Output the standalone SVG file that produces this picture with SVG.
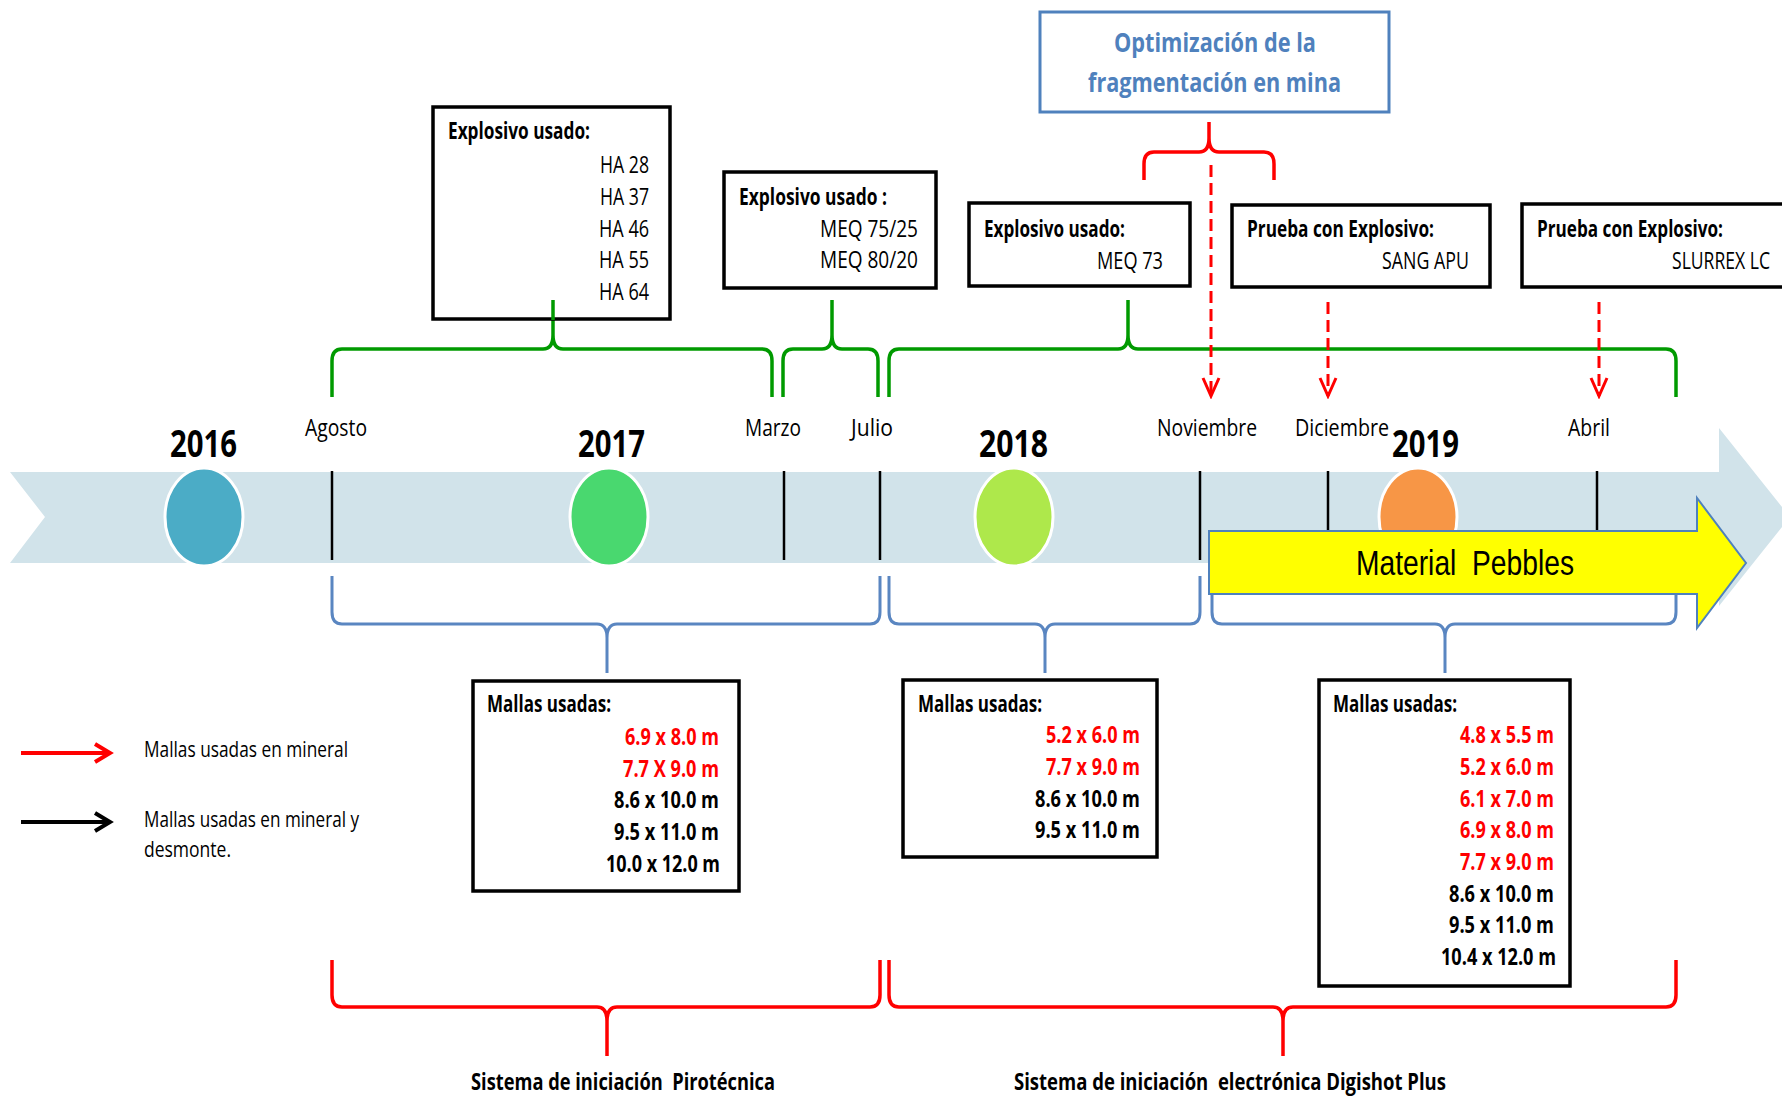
<svg xmlns="http://www.w3.org/2000/svg" width="1782" height="1098" viewBox="0 0 1782 1098">
<style>
text { font-family: "Liberation Sans Narrow", "Open Sans", "Liberation Sans", sans-serif; fill: #000; }
.b { font-weight: bold; }
.s23 { font-size: 23px; }
.s22 { font-size: 22px; }
.yr { font-size: 38px; font-weight: bold; }
.red { fill: #FF0000; }
.ttl { font-size: 27px; font-weight: bold; fill: #4F81BD; }
.box { fill: #FFFFFF; stroke: #000; stroke-width: 3.5; }
.tick { stroke: #000; stroke-width: 2.5; }
.green { fill: none; stroke: #009A00; stroke-width: 3.5; }
.blue { fill: none; stroke: #5A86C1; stroke-width: 3; }
.redb { fill: none; stroke: #FF0000; stroke-width: 3.5; }
.dash { stroke: #FF0000; stroke-width: 3; stroke-dasharray: 12 6; fill: none; }
</style>
<defs>
<marker id="redHead" markerUnits="userSpaceOnUse" viewBox="0 0 22 22" markerWidth="22" markerHeight="22" refX="19" refY="11" orient="auto">
<path d="M1,3 L19,11 L1,19" fill="none" stroke="#FF0000" stroke-width="3" stroke-dasharray="none"/>
</marker>
<marker id="legRed" markerUnits="userSpaceOnUse" viewBox="0 0 22 22" markerWidth="22" markerHeight="22" refX="17" refY="11" orient="auto">
<path d="M2,2 L17,11 L2,20" fill="none" stroke="#FF0000" stroke-width="4"/>
</marker>
<marker id="legBlack" markerUnits="userSpaceOnUse" viewBox="0 0 22 22" markerWidth="22" markerHeight="22" refX="17" refY="11" orient="auto">
<path d="M2,2 L17,11 L2,20" fill="none" stroke="#000" stroke-width="4"/>
</marker>
</defs>

<g id="timeline-band">
<polygon points="10,472 1719,472 1719,428 1790,517 1719,606 1719,563 10,563 45,517" fill="#D1E3EA"/>
</g>

<g id="year-2016">
<ellipse cx="204" cy="517" rx="39" ry="49" fill="#4BACC6" stroke="#FFFFFF" stroke-width="3"/>
<text class="yr" x="170" y="457" textLength="67" lengthAdjust="spacingAndGlyphs">2016</text>
</g>
<g id="year-2017">
<ellipse cx="609" cy="517" rx="39" ry="49" fill="#49D86F" stroke="#FFFFFF" stroke-width="3"/>
<text class="yr" x="578" y="457" textLength="67" lengthAdjust="spacingAndGlyphs">2017</text>
</g>
<g id="year-2018">
<ellipse cx="1014" cy="517" rx="39" ry="49" fill="#AEE84B" stroke="#FFFFFF" stroke-width="3"/>
<text class="yr" x="979" y="457" textLength="69" lengthAdjust="spacingAndGlyphs">2018</text>
</g>
<g id="year-2019">
<ellipse cx="1418" cy="517" rx="39" ry="49" fill="#F79646" stroke="#FFFFFF" stroke-width="3"/>
<text class="yr" x="1392" y="457" textLength="67" lengthAdjust="spacingAndGlyphs">2019</text>
</g>

<g id="months">
<line class="tick" x1="332" y1="471" x2="332" y2="560"/>
<line class="tick" x1="784" y1="471" x2="784" y2="560"/>
<line class="tick" x1="880" y1="471" x2="880" y2="560"/>
<line class="tick" x1="1200" y1="471" x2="1200" y2="560"/>
<line class="tick" x1="1328" y1="471" x2="1328" y2="560"/>
<line class="tick" x1="1597" y1="471" x2="1597" y2="560"/>
<text class="s23" x="305" y="436" textLength="62" lengthAdjust="spacingAndGlyphs">Agosto</text>
<text class="s23" x="745" y="436" textLength="56" lengthAdjust="spacingAndGlyphs">Marzo</text>
<text class="s23" x="851" y="436" textLength="42" lengthAdjust="spacingAndGlyphs">Julio</text>
<text class="s23" x="1157" y="436" textLength="100" lengthAdjust="spacingAndGlyphs">Noviembre</text>
<text class="s23" x="1295" y="436" textLength="94" lengthAdjust="spacingAndGlyphs">Diciembre</text>
<text class="s23" x="1568" y="436" textLength="42" lengthAdjust="spacingAndGlyphs">Abril</text>
</g>

<g id="connectors">
<path class="green" d="M332,397 L332,361 Q332,349 342,349 L543,349 Q553,349 553,335 L553,300 L553,335 Q553,349 563,349 L762,349 Q772,349 772,361 L772,397"/>
<path class="green" d="M783,397 L783,361 Q783,349 793,349 L822,349 Q832,349 832,335 L832,300 L832,335 Q832,349 842,349 L868,349 Q878,349 878,361 L878,397"/>
<path class="green" d="M889,397 L889,361 Q889,349 899,349 L1118,349 Q1128,349 1128,335 L1128,300 L1128,335 Q1128,349 1138,349 L1666,349 Q1676,349 1676,361 L1676,397"/>
<path class="redb" d="M1144,180 L1144,164 Q1144,152 1154,152 L1199,152 Q1209,152 1209,138 L1209,122 L1209,138 Q1209,152 1219,152 L1264,152 Q1274,152 1274,164 L1274,180"/>
<path class="blue" d="M332,576 L332,612 Q332,624 342,624 L597,624 Q607,624 607,638 L607,673 L607,638 Q607,624 617,624 L870,624 Q880,624 880,612 L880,576"/>
<path class="blue" d="M889,576 L889,612 Q889,624 899,624 L1035,624 Q1045,624 1045,638 L1045,673 L1045,638 Q1045,624 1055,624 L1190,624 Q1200,624 1200,612 L1200,576"/>
<path class="blue" d="M1212,576 L1212,612 Q1212,624 1222,624 L1435,624 Q1445,624 1445,638 L1445,673 L1445,638 Q1445,624 1455,624 L1666,624 Q1676,624 1676,612 L1676,576"/>
<path class="redb" d="M332,960 L332,995 Q332,1007 342,1007 L597,1007 Q607,1007 607,1021 L607,1056 L607,1021 Q607,1007 617,1007 L870,1007 Q880,1007 880,995 L880,960"/>
<path class="redb" d="M889,960 L889,995 Q889,1007 899,1007 L1273,1007 Q1283,1007 1283,1021 L1283,1056 L1283,1021 Q1283,1007 1293,1007 L1666,1007 Q1676,1007 1676,995 L1676,960"/>
<line class="dash" x1="1211" y1="165" x2="1211" y2="396" marker-end="url(#redHead)"/>
<line class="dash" x1="1328" y1="302" x2="1328" y2="396" marker-end="url(#redHead)"/>
<line class="dash" x1="1599" y1="302" x2="1599" y2="396" marker-end="url(#redHead)"/>
</g>

<g id="material-pebbles">
<polygon points="1209,531 1697,531 1697,498 1746,563 1697,628 1697,594 1209,594" fill="#FFFF00" stroke="#4F81BD" stroke-width="2"/>
<text x="1356" y="575" font-size="35" style="font-family:'Liberation Sans Narrow','Liberation Sans',Arial,sans-serif" textLength="218" lengthAdjust="spacingAndGlyphs" xml:space="preserve">Material  Pebbles</text>
</g>

<g id="explosivo-2016">
<rect class="box" x="433" y="107" width="237" height="212"/>
<text class="s23 b" x="448" y="139" textLength="142" lengthAdjust="spacingAndGlyphs">Explosivo usado:</text>
<text class="s23" x="600" y="173" textLength="49" lengthAdjust="spacingAndGlyphs">HA 28</text>
<text class="s23" x="600" y="205" textLength="49" lengthAdjust="spacingAndGlyphs">HA 37</text>
<text class="s23" x="599" y="237" textLength="50" lengthAdjust="spacingAndGlyphs">HA 46</text>
<text class="s23" x="599" y="268" textLength="50" lengthAdjust="spacingAndGlyphs">HA 55</text>
<text class="s23" x="599" y="300" textLength="50" lengthAdjust="spacingAndGlyphs">HA 64</text>
</g>
<g id="connector-overlay">
<line x1="553" y1="300" x2="553" y2="320" stroke="#009A00" stroke-width="3.5"/>
</g>

<g id="explosivo-2017">
<rect class="box" x="724" y="172" width="212" height="116"/>
<text class="s23 b" x="739" y="205" textLength="148" lengthAdjust="spacingAndGlyphs">Explosivo usado :</text>
<text class="s23" x="820" y="237" textLength="98" lengthAdjust="spacingAndGlyphs">MEQ 75/25</text>
<text class="s23" x="820" y="268" textLength="98" lengthAdjust="spacingAndGlyphs">MEQ 80/20</text>
</g>

<g id="explosivo-2018">
<rect class="box" x="969" y="203" width="221" height="83"/>
<text class="s23 b" x="984" y="237" textLength="141" lengthAdjust="spacingAndGlyphs">Explosivo usado:</text>
<text class="s23" x="1097" y="269" textLength="66" lengthAdjust="spacingAndGlyphs">MEQ 73</text>
</g>

<g id="prueba-sang">
<rect class="box" x="1232" y="205" width="258" height="82"/>
<text class="s23 b" x="1247" y="237" textLength="187" lengthAdjust="spacingAndGlyphs">Prueba con Explosivo:</text>
<text class="s23" x="1382" y="269" textLength="87" lengthAdjust="spacingAndGlyphs">SANG APU</text>
</g>

<g id="prueba-slurrex">
<rect x="1522" y="204" width="260" height="83" fill="#FFFFFF"/>
<path d="M1782,204 L1522,204 L1522,287 L1782,287" fill="none" stroke="#000" stroke-width="3.5"/>
<text class="s23 b" x="1537" y="237" textLength="186" lengthAdjust="spacingAndGlyphs">Prueba con Explosivo:</text>
<text class="s23" x="1672" y="269" textLength="98" lengthAdjust="spacingAndGlyphs">SLURREX LC</text>
</g>

<g id="optimizacion">
<rect x="1040" y="12" width="349" height="100" fill="#FFFFFF" stroke="#4F81BD" stroke-width="3"/>
<text class="ttl" x="1114" y="52" textLength="202" lengthAdjust="spacingAndGlyphs">Optimización de la</text>
<text class="ttl" x="1088" y="92" textLength="253" lengthAdjust="spacingAndGlyphs">fragmentación en mina</text>
</g>

<g id="mallas-2017">
<rect class="box" x="473" y="681" width="266" height="210"/>
<text class="s23 b" x="487" y="712" textLength="124" lengthAdjust="spacingAndGlyphs">Mallas usadas:</text>
<text class="s23 b red" x="625" y="745" textLength="94" lengthAdjust="spacingAndGlyphs">6.9 x 8.0 m</text>
<text class="s23 b red" x="623" y="777" textLength="96" lengthAdjust="spacingAndGlyphs">7.7 X 9.0 m</text>
<text class="s23 b" x="614" y="808" textLength="105" lengthAdjust="spacingAndGlyphs">8.6 x 10.0 m</text>
<text class="s23 b" x="614" y="840" textLength="105" lengthAdjust="spacingAndGlyphs">9.5 x 11.0 m</text>
<text class="s23 b" x="606" y="872" textLength="114" lengthAdjust="spacingAndGlyphs">10.0 x 12.0 m</text>
</g>

<g id="mallas-2018">
<rect class="box" x="903" y="680" width="254" height="177"/>
<text class="s23 b" x="918" y="712" textLength="124" lengthAdjust="spacingAndGlyphs">Mallas usadas:</text>
<text class="s23 b red" x="1046" y="743" textLength="94" lengthAdjust="spacingAndGlyphs">5.2 x 6.0 m</text>
<text class="s23 b red" x="1046" y="775" textLength="94" lengthAdjust="spacingAndGlyphs">7.7 x 9.0 m</text>
<text class="s23 b" x="1035" y="807" textLength="105" lengthAdjust="spacingAndGlyphs">8.6 x 10.0 m</text>
<text class="s23 b" x="1035" y="838" textLength="105" lengthAdjust="spacingAndGlyphs">9.5 x 11.0 m</text>
</g>

<g id="mallas-2019">
<rect class="box" x="1319" y="680" width="251" height="306"/>
<text class="s23 b" x="1333" y="712" textLength="124" lengthAdjust="spacingAndGlyphs">Mallas usadas:</text>
<text class="s23 b red" x="1460" y="743" textLength="94" lengthAdjust="spacingAndGlyphs">4.8 x 5.5 m</text>
<text class="s23 b red" x="1460" y="775" textLength="94" lengthAdjust="spacingAndGlyphs">5.2 x 6.0 m</text>
<text class="s23 b red" x="1460" y="807" textLength="94" lengthAdjust="spacingAndGlyphs">6.1 x 7.0 m</text>
<text class="s23 b red" x="1460" y="838" textLength="94" lengthAdjust="spacingAndGlyphs">6.9 x 8.0 m</text>
<text class="s23 b red" x="1460" y="870" textLength="94" lengthAdjust="spacingAndGlyphs">7.7 x 9.0 m</text>
<text class="s23 b" x="1449" y="902" textLength="105" lengthAdjust="spacingAndGlyphs">8.6 x 10.0 m</text>
<text class="s23 b" x="1449" y="933" textLength="105" lengthAdjust="spacingAndGlyphs">9.5 x 11.0 m</text>
<text class="s23 b" x="1441" y="965" textLength="115" lengthAdjust="spacingAndGlyphs">10.4 x 12.0 m</text>
</g>

<g id="legend">
<line x1="21" y1="753" x2="110" y2="753" stroke="#FF0000" stroke-width="4" marker-end="url(#legRed)"/>
<text class="s22" x="144" y="757" textLength="204" lengthAdjust="spacingAndGlyphs">Mallas usadas en mineral</text>
<line x1="21" y1="822" x2="110" y2="822" stroke="#000" stroke-width="4" marker-end="url(#legBlack)"/>
<text class="s22" x="144" y="827" textLength="215" lengthAdjust="spacingAndGlyphs">Mallas usadas en mineral y</text>
<text class="s22" x="144" y="857" textLength="87" lengthAdjust="spacingAndGlyphs">desmonte.</text>
</g>

<g id="sistema-pirotecnica">
<text class="s23 b" x="471" y="1090" textLength="304" lengthAdjust="spacingAndGlyphs" xml:space="preserve">Sistema de iniciación  Pirotécnica</text>
</g>
<g id="sistema-digishot">
<text class="s23 b" x="1014" y="1090" textLength="432" lengthAdjust="spacingAndGlyphs" xml:space="preserve">Sistema de iniciación  electrónica Digishot Plus</text>
</g>
</svg>
